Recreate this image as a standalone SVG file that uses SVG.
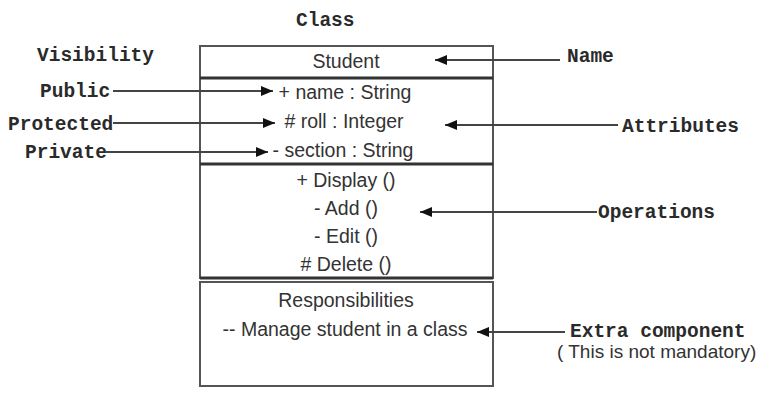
<svg xmlns="http://www.w3.org/2000/svg" width="781" height="397" viewBox="0 0 781 397">
<style>
.lbl{font-family:"Liberation Mono","Courier New",monospace;font-weight:bold;font-size:19.5px;fill:#2a2a2a}
.txt{font-family:"Liberation Sans",Arial,sans-serif;font-size:19.5px;fill:#333;text-anchor:middle}
.note{font-family:"Liberation Sans",Arial,sans-serif;font-size:19px;fill:#333}
.border{fill:none;stroke:#555;stroke-width:2}
.div{stroke:#333;stroke-width:3}
.conn{stroke:#444;stroke-width:2;fill:none;marker-end:url(#arr)}
</style>
<defs>
<marker id="arr" markerUnits="userSpaceOnUse" markerWidth="13" markerHeight="11" refX="12" refY="5" orient="auto">
<path d="M0,0 L12,5 L0,10 z" fill="#111"/>
</marker>
</defs>
<rect width="781" height="397" fill="#fff"/>
<text class="lbl" x="296" y="26">Class</text>
<text class="lbl" x="37" y="61">Visibility</text>
<g id="class-box">
<rect class="border" x="200" y="46" width="293" height="232"/>
<line class="div" x1="200" y1="78" x2="493" y2="78"/>
<line class="div" x1="200" y1="164" x2="493" y2="164"/>
<line class="div" x1="200" y1="278" x2="493" y2="278"/>
</g>
<g id="name">
<text class="txt" x="346" y="68">Student</text>
</g>
<g id="attributes">
<text class="txt" x="345" y="99">+ name : String</text>
<text class="txt" x="344" y="128">#  roll : Integer</text>
<text class="txt" x="343" y="157">- section : String</text>
</g>
<g id="operations">
<text class="txt" x="346" y="187">+ Display ()</text>
<text class="txt" x="346" y="215">- Add ()</text>
<text class="txt" x="346" y="243">- Edit ()</text>
<text class="txt" x="346" y="271">#  Delete ()</text>
</g>
<g id="responsibilities">
<rect class="border" x="200" y="282" width="293" height="104"/>
<text class="txt" x="346" y="307">Responsibilities</text>
<text class="txt" x="345" y="336">-- Manage student in a class</text>
</g>
<g id="visibility-labels">
<text class="lbl" x="40" y="97">Public</text>
<text class="lbl" x="8" y="130">Protected</text>
<text class="lbl" x="25" y="158">Private</text>
</g>
<g id="part-labels">
<text class="lbl" x="567" y="62">Name</text>
<text class="lbl" x="622" y="132">Attributes</text>
<text class="lbl" x="598" y="218">Operations</text>
<text class="lbl" x="570" y="337">Extra component</text>
<text class="note" x="557" y="358">( This is not mandatory)</text>
</g>
<g id="connectors">
<line class="conn" x1="113" y1="91" x2="273" y2="91"/>
<line class="conn" x1="113" y1="123" x2="275" y2="123"/>
<line class="conn" x1="106" y1="152" x2="268" y2="152"/>
<line class="conn" x1="560" y1="60" x2="435" y2="60"/>
<line class="conn" x1="618" y1="125" x2="445" y2="125"/>
<line class="conn" x1="597" y1="212" x2="420" y2="212"/>
<line class="conn" x1="565" y1="332" x2="477" y2="332"/>
</g>
</svg>
